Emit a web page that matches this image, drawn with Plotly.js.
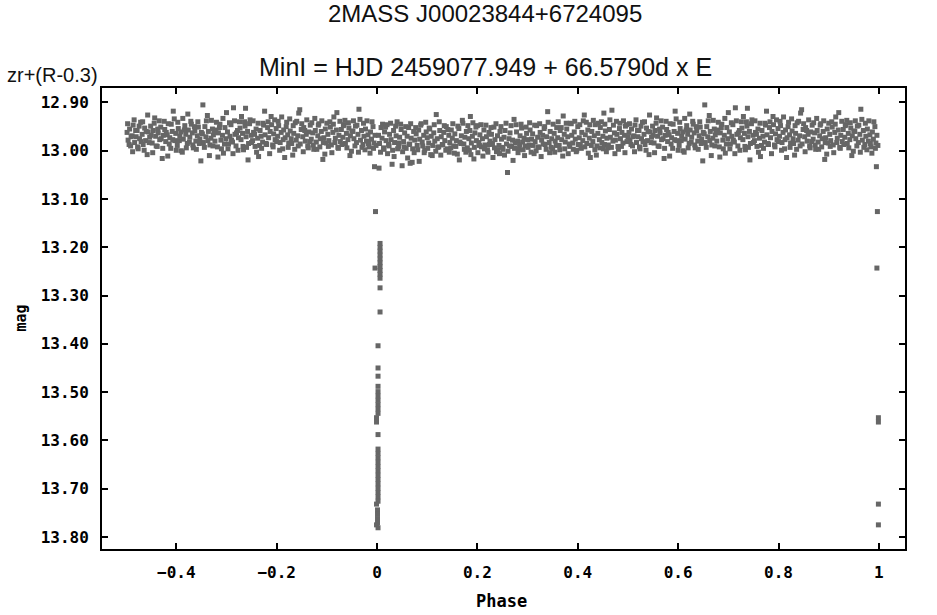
<!DOCTYPE html>
<html><head><meta charset="utf-8">
<script src="https://cdn.plot.ly/plotly-3.0.1.min.js"></script>
<style>html,body{margin:0;padding:0;background:#fff;overflow:hidden}</style>
</head><body><div id="chart" style="width:937px;height:615px"></div>
<script>
// Out-of-eclipse band, phases -0.5 .. 0.5
const bandPhase = [
-0.498,-0.496,-0.493,-0.491,-0.488,-0.486,-0.483,-0.480,-0.478,-0.476,
-0.473,-0.471,-0.468,-0.466,-0.463,-0.461,-0.458,-0.456,-0.453,-0.451,
-0.448,-0.446,-0.443,-0.441,-0.438,-0.436,-0.433,-0.431,-0.428,-0.426,
-0.423,-0.421,-0.418,-0.416,-0.413,-0.411,-0.408,-0.406,-0.403,-0.401,
-0.398,-0.396,-0.393,-0.391,-0.388,-0.386,-0.383,-0.381,-0.378,-0.376,
-0.373,-0.371,-0.368,-0.366,-0.363,-0.361,-0.358,-0.356,-0.353,-0.351,
-0.348,-0.346,-0.343,-0.341,-0.338,-0.336,-0.333,-0.331,-0.328,-0.326,
-0.323,-0.321,-0.318,-0.316,-0.313,-0.311,-0.308,-0.306,-0.303,-0.301,
-0.298,-0.296,-0.293,-0.291,-0.288,-0.286,-0.283,-0.281,-0.278,-0.276,
-0.273,-0.271,-0.268,-0.266,-0.263,-0.261,-0.258,-0.256,-0.253,-0.251,
-0.248,-0.246,-0.243,-0.241,-0.238,-0.236,-0.233,-0.231,-0.228,-0.226,
-0.223,-0.221,-0.218,-0.216,-0.213,-0.211,-0.208,-0.206,-0.203,-0.201,
-0.198,-0.196,-0.193,-0.191,-0.188,-0.186,-0.183,-0.181,-0.178,-0.176,
-0.173,-0.171,-0.168,-0.166,-0.163,-0.161,-0.158,-0.156,-0.153,-0.151,
-0.148,-0.146,-0.143,-0.141,-0.138,-0.136,-0.133,-0.131,-0.128,-0.126,
-0.123,-0.121,-0.118,-0.116,-0.113,-0.111,-0.108,-0.106,-0.103,-0.101,
-0.098,-0.096,-0.093,-0.091,-0.088,-0.086,-0.083,-0.081,-0.078,-0.076,
-0.073,-0.071,-0.068,-0.066,-0.063,-0.061,-0.058,-0.056,-0.053,-0.051,
-0.048,-0.046,-0.043,-0.041,-0.038,-0.036,-0.033,-0.031,-0.028,-0.026,
-0.023,-0.021,-0.018,-0.016,-0.013,-0.011,-0.008,-0.006,-0.004,-0.002,
0.003,0.005,0.008,0.010,0.013,0.015,0.018,0.020,0.023,0.025,
0.028,0.030,0.033,0.035,0.038,0.040,0.043,0.045,0.048,0.050,
0.053,0.055,0.058,0.060,0.063,0.065,0.068,0.070,0.073,0.075,
0.078,0.080,0.083,0.085,0.088,0.090,0.093,0.095,0.098,0.100,
0.103,0.105,0.108,0.110,0.113,0.115,0.118,0.120,0.123,0.125,
0.128,0.130,0.133,0.135,0.138,0.140,0.143,0.145,0.148,0.150,
0.153,0.155,0.158,0.160,0.163,0.165,0.168,0.170,0.173,0.175,
0.178,0.180,0.183,0.185,0.188,0.190,0.193,0.195,0.198,0.200,
0.203,0.205,0.208,0.210,0.213,0.215,0.218,0.220,0.223,0.225,
0.228,0.230,0.233,0.235,0.238,0.240,0.243,0.245,0.248,0.250,
0.253,0.255,0.258,0.260,0.263,0.265,0.268,0.270,0.273,0.275,
0.278,0.280,0.283,0.285,0.288,0.290,0.293,0.295,0.298,0.300,
0.303,0.305,0.308,0.310,0.313,0.315,0.318,0.320,0.323,0.325,
0.328,0.330,0.333,0.335,0.338,0.340,0.343,0.345,0.348,0.350,
0.353,0.355,0.358,0.360,0.363,0.365,0.368,0.370,0.373,0.375,
0.378,0.380,0.383,0.385,0.388,0.390,0.393,0.395,0.398,0.400,
0.403,0.405,0.408,0.410,0.413,0.415,0.418,0.420,0.423,0.425,
0.428,0.430,0.433,0.435,0.438,0.440,0.443,0.445,0.448,0.450,
0.453,0.455,0.458,0.460,0.463,0.465,0.468,0.470,0.473,0.475,
0.478,0.480,0.483,0.485,0.488,0.490,0.493,0.495,0.498,0.500,
-0.497,-0.494,-0.490,-0.487,-0.484,-0.481,-0.477,-0.474,-0.470,-0.467,
-0.464,-0.460,-0.457,-0.454,-0.450,-0.447,-0.444,-0.440,-0.437,-0.434,
-0.430,-0.427,-0.424,-0.420,-0.417,-0.414,-0.410,-0.407,-0.404,-0.400,
-0.397,-0.394,-0.390,-0.387,-0.384,-0.380,-0.377,-0.374,-0.370,-0.367,
-0.364,-0.360,-0.357,-0.354,-0.350,-0.347,-0.344,-0.340,-0.337,-0.334,
-0.330,-0.327,-0.324,-0.320,-0.317,-0.314,-0.310,-0.307,-0.304,-0.300,
-0.297,-0.294,-0.290,-0.287,-0.284,-0.280,-0.277,-0.274,-0.270,-0.267,
-0.264,-0.260,-0.257,-0.254,-0.250,-0.247,-0.244,-0.240,-0.237,-0.234,
-0.230,-0.227,-0.224,-0.220,-0.217,-0.214,-0.210,-0.207,-0.204,-0.200,
-0.197,-0.194,-0.190,-0.187,-0.184,-0.180,-0.177,-0.174,-0.170,-0.167,
-0.164,-0.160,-0.157,-0.154,-0.150,-0.147,-0.144,-0.140,-0.137,-0.134,
-0.130,-0.127,-0.124,-0.120,-0.117,-0.114,-0.110,-0.107,-0.104,-0.100,
-0.097,-0.094,-0.090,-0.087,-0.084,-0.080,-0.077,-0.074,-0.070,-0.067,
-0.064,-0.060,-0.057,-0.054,-0.050,-0.047,-0.044,-0.040,-0.037,-0.034,
-0.030,-0.027,-0.024,-0.020,-0.017,-0.014,-0.010,-0.007,0.007,0.011,
0.014,0.017,0.021,0.024,0.027,0.031,0.034,0.037,0.041,0.044,
0.047,0.051,0.054,0.057,0.061,0.064,0.067,0.071,0.074,0.077,
0.081,0.084,0.087,0.091,0.094,0.097,0.101,0.104,0.107,0.111,
0.114,0.117,0.121,0.124,0.127,0.131,0.134,0.137,0.141,0.144,
0.147,0.151,0.154,0.157,0.161,0.164,0.167,0.171,0.174,0.177,
0.181,0.184,0.187,0.191,0.194,0.197,0.201,0.204,0.207,0.211,
0.214,0.217,0.221,0.224,0.227,0.231,0.234,0.237,0.241,0.244,
0.247,0.251,0.254,0.257,0.261,0.264,0.267,0.271,0.274,0.277,
0.281,0.284,0.287,0.291,0.294,0.297,0.301,0.304,0.307,0.311,
0.314,0.317,0.321,0.324,0.327,0.331,0.334,0.337,0.341,0.344,
0.347,0.351,0.354,0.357,0.361,0.364,0.367,0.371,0.374,0.377,
0.381,0.384,0.387,0.391,0.394,0.397,0.401,0.404,0.407,0.411,
0.414,0.417,0.421,0.424,0.427,0.431,0.434,0.437,0.441,0.444,
0.447,0.451,0.454,0.457,0.461,0.464,0.467,0.471,0.474,0.477,
0.481,0.484,0.487,0.491,0.494,0.497,0.452,0.186,0.066,-0.262
];
const bandMag = [
12.962,12.978,12.955,12.990,12.969,12.947,12.983,12.971,12.958,12.996,
12.975,12.941,12.966,12.987,12.953,12.979,13.008,12.961,12.972,12.949,
12.984,12.958,12.932,12.970,12.991,12.963,12.977,12.951,13.016,12.968,
12.956,12.981,12.967,12.944,12.973,12.995,12.960,12.918,12.979,12.964,
12.989,12.954,12.970,12.961,13.003,12.976,12.948,12.966,12.985,12.957,
12.972,12.939,12.963,12.994,12.958,12.980,12.969,12.951,12.976,13.021,
12.965,12.983,12.950,12.971,12.927,12.960,12.988,12.974,12.955,12.967,
12.980,12.957,12.992,12.963,12.945,12.978,12.968,13.005,12.952,12.975,
12.961,12.986,12.970,12.946,12.982,12.911,12.966,12.990,12.958,12.973,
12.953,12.977,12.964,12.998,12.949,12.971,12.960,12.985,12.936,12.968,
12.979,12.962,12.991,12.955,12.974,13.012,12.958,12.970,12.982,12.947,
12.967,12.985,12.952,12.973,12.960,12.929,12.988,12.965,12.977,12.954,
12.970,12.948,12.983,12.962,12.996,12.957,12.973,12.950,12.967,12.984,
12.959,12.975,13.009,12.964,12.942,12.978,12.969,12.922,12.986,12.956,
12.971,12.952,12.980,12.966,12.990,12.961,12.947,12.976,12.963,12.997,
12.958,12.982,12.969,12.944,12.975,12.960,13.018,12.973,12.955,12.984,
12.966,12.979,12.951,12.988,12.962,12.930,12.974,12.957,12.993,12.968,
12.981,12.956,12.972,12.946,12.985,12.964,12.977,12.953,12.969,13.001,
12.960,12.975,12.949,12.983,12.966,12.914,12.978,12.958,12.987,12.970,
12.955,12.980,12.967,12.992,12.961,12.976,12.950,12.984,12.968,12.989,
12.968,12.985,12.952,12.974,12.994,12.961,12.979,12.946,12.987,12.966,
12.977,13.028,12.958,12.983,12.969,12.940,12.991,12.972,12.956,13.031,
12.981,12.963,12.995,12.970,12.952,12.986,12.974,13.024,12.960,12.978,
12.965,12.989,12.957,12.976,12.944,12.982,12.968,12.999,12.961,12.973,
12.984,12.955,12.970,13.010,12.963,12.980,12.925,12.975,12.992,12.958,
12.971,12.987,12.962,12.979,12.950,12.996,12.968,12.983,12.957,12.974,
12.990,12.965,12.979,13.007,12.954,12.982,12.969,12.937,12.986,12.972,
12.960,12.994,12.975,12.958,12.984,12.970,13.017,12.963,12.979,12.948,
12.983,12.967,12.992,12.975,12.957,12.988,12.971,12.998,12.962,12.980,
12.966,12.985,12.951,12.977,13.002,12.969,12.989,12.960,12.976,12.993,
12.972,12.958,12.986,13.045,12.975,12.963,12.991,12.978,12.935,12.984,
12.961,12.980,12.997,12.969,12.953,12.982,12.974,12.990,12.964,12.977,
12.988,12.957,12.976,12.965,13.006,12.981,12.948,12.972,12.993,12.962,
12.978,12.968,12.954,12.987,12.971,12.919,12.983,12.960,12.975,12.996,
12.964,12.980,12.952,12.973,12.989,12.958,12.977,13.011,12.966,12.982,
12.955,12.971,12.986,12.943,12.968,12.984,12.961,12.976,12.999,12.950,
12.973,12.988,12.962,12.979,12.926,12.967,12.985,12.957,12.974,13.014,
12.960,12.981,12.969,12.946,12.990,12.964,12.977,12.952,12.983,12.970,
12.987,12.959,12.974,12.994,12.956,12.972,12.916,12.980,12.963,12.978,
12.966,12.991,12.954,12.975,12.962,12.984,12.968,12.949,12.981,12.971,
12.944,12.987,12.971,13.002,12.936,12.958,12.992,12.949,12.981,12.940,
12.999,12.960,12.926,12.983,12.968,13.004,12.943,12.990,12.955,12.938,
12.975,12.995,12.939,12.962,13.011,12.986,12.945,12.977,12.934,12.999,
12.941,12.979,13.000,12.933,12.957,12.994,12.924,12.982,12.945,12.988,
12.950,12.997,12.940,12.985,12.962,12.905,12.993,12.938,12.979,13.010,
12.937,12.990,12.962,12.941,13.013,12.952,12.996,12.933,12.986,12.921,
12.996,12.942,12.978,13.006,12.938,12.963,12.999,12.940,12.929,12.991,
12.940,12.993,13.019,12.944,12.983,12.938,12.966,13.003,12.943,12.989,
12.995,12.943,12.918,12.987,12.940,13.006,12.946,12.992,12.936,12.981,
12.939,12.999,12.930,12.977,13.014,12.941,12.993,12.934,12.985,12.948,
12.997,12.939,12.990,12.915,12.944,13.002,12.958,12.936,12.994,12.981,
12.942,12.988,12.933,12.997,12.947,12.992,12.938,12.983,13.007,12.943,
12.991,12.940,13.004,12.945,12.983,12.921,12.995,12.939,12.987,12.948,
12.937,12.994,12.942,13.010,12.959,12.938,12.990,12.947,13.003,12.935,
12.993,12.943,12.998,12.938,12.985,13.005,12.940,12.995,13.003,12.945,
12.997,12.951,13.006,12.990,12.943,12.999,13.012,12.949,12.996,12.984,
12.945,13.002,12.992,12.950,13.015,12.987,12.944,12.996,13.004,12.952,
12.998,13.022,12.947,12.990,13.004,12.941,12.995,12.953,13.008,12.989,
12.946,13.001,12.993,12.940,13.009,12.988,12.948,12.999,12.956,13.003,
12.994,12.944,13.005,12.991,12.949,13.019,12.985,12.943,12.997,13.003,
12.948,12.999,13.008,12.942,12.993,12.951,13.004,12.989,12.946,13.011,
12.996,12.947,13.003,12.987,12.952,13.014,12.994,12.944,12.999,13.006,
12.950,12.997,13.009,12.943,13.001,12.990,12.948,13.020,12.995,12.946,
13.004,12.988,12.945,12.998,13.010,12.951,12.993,12.942,13.003,12.989,
12.947,13.000,12.992,12.944,13.012,12.986,12.950,12.997,12.941,13.004,
12.993,12.945,13.003,12.989,12.940,12.998,12.952,12.928,12.996,12.943,
13.006,12.991,12.944,12.997,12.939,13.002,12.987,12.946,12.995,12.938,
12.992,12.941,13.005,12.946,12.989,12.937,12.998,13.009,12.943,12.994,
12.940,12.996,12.945,13.002,12.988,12.936,12.993,12.947,13.006,12.939,
12.997,12.943,12.991,12.938,13.004,12.946,12.922,12.929,13.026,12.912
];
// Eclipse points near phase 0
const eclipsePhase = [
-0.005,0.004,-0.003,-0.004,
0.006,0.006,0.006,0.006,0.006,0.006,0.006,0.006,0.006,0.006,
0.006,0.006,
0.002,0.002,0.002,0.002,0.002,0.002,0.002,0.002,0.002,0.002,
-0.001,-0.001,0.002,
0.002,0.002,0.002,0.002,0.002,0.002,0.002,0.002,0.002,0.002,0.002,0.002,0.002,
-0.001,0.001,0.001,0.001,0.001,-0.001,0.002
];
const eclipseMag = [
13.033,13.036,13.126,13.243,
13.192,13.200,13.208,13.216,13.224,13.232,13.240,13.248,13.256,13.264,
13.284,13.334,
13.404,13.450,13.467,13.488,13.499,13.508,13.517,13.526,13.535,13.544,
13.553,13.562,13.588,
13.618,13.627,13.636,13.645,13.654,13.663,13.672,13.681,13.690,13.699,13.708,13.717,13.726,
13.732,13.744,13.753,13.762,13.771,13.775,13.781
];
const xTickVals = [-0.4,-0.2,0,0.2,0.4,0.6,0.8,1];
const xTickText = ['\u22120.4','\u22120.2','0','0.2','0.4','0.6','0.8','1'];
const yTickVals = [12.9,13.0,13.1,13.2,13.3,13.4,13.5,13.6,13.7,13.8];
const yTickText = ['12.90','13.00','13.10','13.20','13.30','13.40','13.50','13.60','13.70','13.80'];

// Folded light curve: points with negative phase are also shown one cycle later
const phase = [], mag = [];
const allP = bandPhase.concat(eclipsePhase), allM = bandMag.concat(eclipseMag);
for (let i = 0; i < allP.length; i++) {
  phase.push(allP[i]); mag.push(allM[i]);
  if (allP[i] < 0) { phase.push(allP[i] + 1); mag.push(allM[i]); }
}

const tickFont = {family: 'DejaVu Sans Mono, monospace', size: 16, weight: 'bold', color: '#000'};
const trace = {
  x: phase, y: mag, type: 'scatter', mode: 'markers',
  marker: {symbol: 'square', size: 5, color: '#666666', line: {width: 0}},
  hoverinfo: 'skip'
};
const axisCommon = {
  showline: true, linewidth: 2, linecolor: '#000', mirror: 'ticks',
  ticks: 'inside', ticklen: 6, tickwidth: 2, tickcolor: '#000',
  showgrid: false, zeroline: false, tickfont: tickFont, tickmode: 'array'
};
const layout = {
  width: 937, height: 615,
  margin: {l: 102, r: 32, t: 88, b: 66, pad: 0},
  paper_bgcolor: '#fff', plot_bgcolor: '#fff', showlegend: false,
  xaxis: Object.assign({}, axisCommon, {range: [-0.548, 1.052], tickvals: xTickVals, ticktext: xTickText, ticklabelstandoff: 8}),
  yaxis: Object.assign({}, axisCommon, {range: [13.825, 12.87], tickvals: yTickVals, ticktext: yTickText, ticklabelstandoff: 8}),
  annotations: [
    {text: '2MASS J00023844+6724095', xref: 'paper', yref: 'paper', x: 0.477, y: 1.161, xanchor: 'center', yanchor: 'middle', showarrow: false,
     font: {family: 'Liberation Sans, Arial, sans-serif', size: 24, color: '#111'}},
    {text: 'MinI = HJD 2459077.949 + 66.5790d x E', xref: 'paper', yref: 'paper', x: 0.477, y: 1.0456, xanchor: 'center', yanchor: 'middle', showarrow: false,
     font: {family: 'Liberation Sans, Arial, sans-serif', size: 25, color: '#111'}},
    {text: 'zr+(R-0.3)', xref: 'paper', yref: 'paper', x: -0.1208, y: 1.028, xanchor: 'left', yanchor: 'middle', showarrow: false,
     font: {family: 'Liberation Sans, Arial, sans-serif', size: 20, color: '#111'}},
    {text: 'mag', xref: 'paper', yref: 'paper', x: -0.102, y: 0.5, xanchor: 'center', yanchor: 'middle', textangle: -90, showarrow: false,
     font: {family: 'DejaVu Sans Mono, monospace', size: 15, weight: 'bold', color: '#000'}},
    {text: 'Phase', xref: 'paper', yref: 'paper', x: 0.498, y: -0.1128, xanchor: 'center', yanchor: 'middle', showarrow: false,
     font: {family: 'DejaVu Sans Mono, monospace', size: 17, weight: 'bold', color: '#000'}}
  ]
};
Plotly.newPlot('chart', [trace], layout, {staticPlot: true, displayModeBar: false});
</script></body></html>
